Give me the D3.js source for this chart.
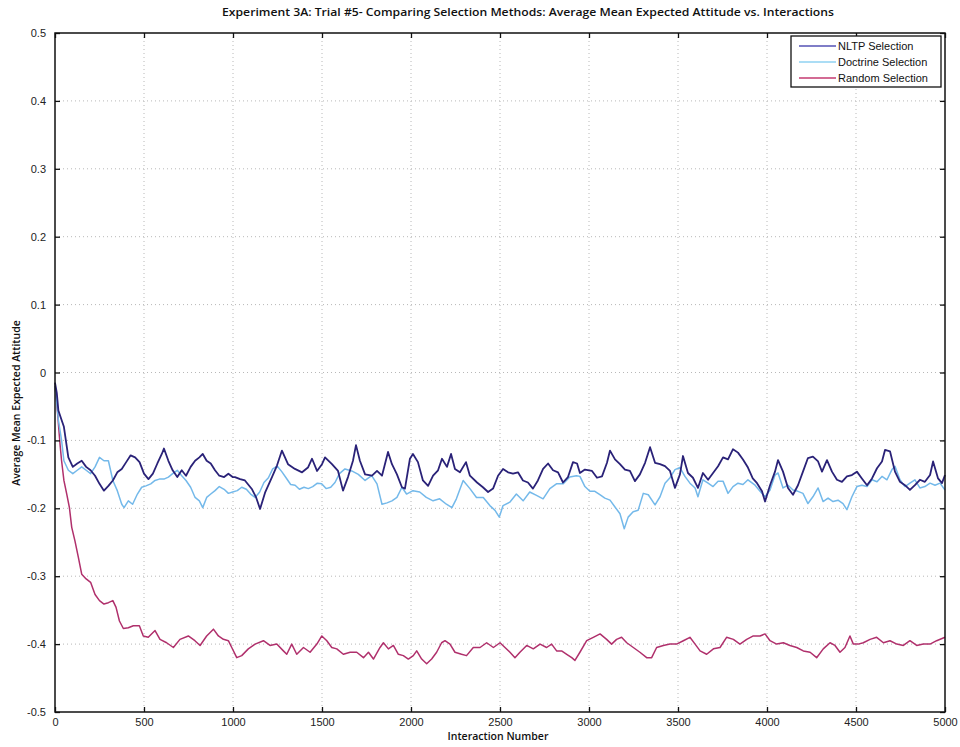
<!DOCTYPE html>
<html><head><meta charset="utf-8">
<script src="https://cdn.jsdelivr.net/npm/d3@7/dist/d3.min.js"></script>
<style>body{margin:0;background:#fff}svg{display:block}</style>
</head><body>
<svg id="c" width="960" height="747"></svg>
<script>
const title = "Experiment 3A: Trial #5- Comparing Selection Methods: Average Mean Expected Attitude vs. Interactions";
const xLabel = "Interaction Number";
const yLabel = "Average Mean Expected Attitude";
const seriesNames = ["NLTP Selection", "Doctrine Selection", "Random Selection"];
const xTicks = [0,500,1000,1500,2000,2500,3000,3500,4000,4500,5000];
const yTicks = [0.5,0.4,0.3,0.2,0.1,0,-0.1,-0.2,-0.3,-0.4,-0.5];
const yTickLabels = ["0.5","0.4","0.3","0.2","0.1","0","-0.1","-0.2","-0.3","-0.4","-0.5"];

// [interaction, value]
const nltp = [[0,-0.015],[10,-0.03],[19,-0.056],[37,-0.070],[50,-0.080],[75,-0.125],[100,-0.139],[125,-0.134],[150,-0.130],[175,-0.139],[200,-0.144],[225,-0.152],[250,-0.164],[275,-0.174],[300,-0.167],[325,-0.159],[350,-0.147],[375,-0.142],[400,-0.132],[425,-0.122],[450,-0.125],[475,-0.132],[500,-0.149],[525,-0.157],[550,-0.149],[575,-0.134],[600,-0.120],[612,-0.112],[637,-0.130],[661,-0.144],[687,-0.154],[712,-0.144],[736,-0.152],[762,-0.139],[787,-0.130],[811,-0.125],[830,-0.120],[852,-0.130],[875,-0.134],[899,-0.144],[923,-0.152],[950,-0.154],[974,-0.149],[998,-0.154],[1011,-0.154],[1040,-0.157],[1067,-0.159],[1107,-0.172],[1130,-0.184],[1152,-0.201],[1180,-0.177],[1219,-0.154],[1247,-0.137],[1275,-0.115],[1309,-0.135],[1348,-0.142],[1388,-0.147],[1421,-0.140],[1444,-0.127],[1472,-0.145],[1500,-0.135],[1517,-0.125],[1556,-0.135],[1590,-0.145],[1618,-0.174],[1646,-0.154],[1674,-0.130],[1691,-0.107],[1713,-0.130],[1742,-0.150],[1781,-0.152],[1809,-0.145],[1837,-0.152],[1871,-0.117],[1893,-0.135],[1921,-0.150],[1949,-0.169],[1966,-0.171],[1994,-0.127],[2011,-0.120],[2039,-0.132],[2067,-0.159],[2096,-0.167],[2124,-0.152],[2152,-0.144],[2174,-0.127],[2202,-0.139],[2225,-0.120],[2247,-0.142],[2275,-0.147],[2309,-0.132],[2331,-0.152],[2371,-0.162],[2404,-0.169],[2433,-0.176],[2461,-0.171],[2489,-0.152],[2517,-0.142],[2545,-0.147],[2573,-0.149],[2601,-0.147],[2629,-0.159],[2657,-0.162],[2685,-0.171],[2713,-0.159],[2742,-0.142],[2770,-0.134],[2798,-0.144],[2826,-0.147],[2854,-0.162],[2882,-0.154],[2910,-0.132],[2933,-0.134],[2949,-0.148],[2977,-0.143],[3017,-0.145],[3045,-0.155],[3073,-0.153],[3101,-0.133],[3118,-0.115],[3146,-0.128],[3174,-0.135],[3202,-0.143],[3230,-0.145],[3258,-0.160],[3286,-0.150],[3315,-0.133],[3343,-0.110],[3371,-0.133],[3399,-0.135],[3427,-0.138],[3455,-0.145],[3483,-0.170],[3511,-0.150],[3528,-0.123],[3556,-0.148],[3584,-0.155],[3612,-0.170],[3640,-0.148],[3669,-0.158],[3697,-0.148],[3725,-0.138],[3753,-0.125],[3781,-0.128],[3809,-0.113],[3837,-0.118],[3865,-0.128],[3893,-0.140],[3920,-0.156],[3944,-0.163],[3972,-0.175],[3989,-0.190],[4017,-0.166],[4045,-0.146],[4062,-0.129],[4090,-0.146],[4118,-0.170],[4146,-0.180],[4174,-0.166],[4202,-0.146],[4230,-0.126],[4258,-0.124],[4287,-0.131],[4309,-0.146],[4337,-0.129],[4365,-0.146],[4393,-0.158],[4421,-0.161],[4449,-0.153],[4477,-0.151],[4505,-0.146],[4533,-0.156],[4562,-0.166],[4590,-0.156],[4618,-0.141],[4646,-0.131],[4663,-0.114],[4691,-0.116],[4719,-0.146],[4747,-0.161],[4775,-0.166],[4803,-0.173],[4831,-0.166],[4859,-0.158],[4887,-0.161],[4916,-0.151],[4933,-0.131],[4961,-0.156],[4983,-0.163],[5000,-0.151]];

const doctrine = [[0,-0.02],[10,-0.045],[19,-0.070],[37,-0.100],[50,-0.130],[75,-0.144],[100,-0.149],[125,-0.144],[150,-0.139],[175,-0.144],[200,-0.149],[225,-0.139],[250,-0.125],[275,-0.130],[300,-0.130],[325,-0.159],[350,-0.174],[375,-0.194],[388,-0.199],[412,-0.189],[436,-0.194],[463,-0.179],[487,-0.169],[511,-0.167],[538,-0.164],[562,-0.159],[586,-0.157],[612,-0.157],[637,-0.154],[661,-0.149],[687,-0.144],[712,-0.152],[736,-0.159],[762,-0.169],[787,-0.184],[811,-0.189],[830,-0.199],[852,-0.184],[875,-0.179],[899,-0.174],[923,-0.168],[950,-0.172],[974,-0.178],[998,-0.176],[1024,-0.174],[1049,-0.169],[1075,-0.172],[1099,-0.179],[1124,-0.184],[1150,-0.176],[1174,-0.162],[1199,-0.155],[1223,-0.142],[1249,-0.138],[1274,-0.146],[1298,-0.155],[1324,-0.165],[1349,-0.166],[1373,-0.172],[1399,-0.169],[1423,-0.171],[1448,-0.168],[1474,-0.163],[1498,-0.164],[1523,-0.171],[1549,-0.169],[1573,-0.162],[1598,-0.149],[1629,-0.142],[1667,-0.145],[1704,-0.150],[1742,-0.159],[1779,-0.152],[1809,-0.164],[1837,-0.194],[1865,-0.192],[1893,-0.189],[1921,-0.184],[1949,-0.169],[1975,-0.179],[2011,-0.174],[2049,-0.176],[2086,-0.184],[2124,-0.189],[2161,-0.186],[2199,-0.194],[2230,-0.199],[2255,-0.186],[2293,-0.159],[2331,-0.171],[2368,-0.184],[2406,-0.184],[2443,-0.196],[2472,-0.203],[2496,-0.213],[2517,-0.196],[2555,-0.191],[2592,-0.179],[2630,-0.189],[2667,-0.176],[2705,-0.181],[2742,-0.186],[2780,-0.171],[2817,-0.164],[2854,-0.164],[2892,-0.154],[2929,-0.152],[2949,-0.153],[2977,-0.168],[3005,-0.175],[3033,-0.175],[3061,-0.180],[3089,-0.185],[3118,-0.188],[3146,-0.198],[3174,-0.208],[3198,-0.230],[3220,-0.213],[3248,-0.205],[3276,-0.203],[3305,-0.178],[3333,-0.180],[3371,-0.195],[3399,-0.183],[3427,-0.163],[3455,-0.155],[3483,-0.143],[3511,-0.140],[3539,-0.153],[3567,-0.163],[3596,-0.170],[3612,-0.183],[3640,-0.158],[3669,-0.163],[3697,-0.168],[3725,-0.160],[3753,-0.160],[3781,-0.178],[3809,-0.168],[3837,-0.163],[3865,-0.165],[3893,-0.158],[3933,-0.166],[3961,-0.175],[3989,-0.183],[4017,-0.173],[4045,-0.151],[4062,-0.148],[4090,-0.170],[4118,-0.166],[4146,-0.173],[4174,-0.175],[4202,-0.178],[4230,-0.193],[4258,-0.183],[4287,-0.170],[4315,-0.190],[4343,-0.185],[4371,-0.190],[4399,-0.188],[4427,-0.193],[4449,-0.202],[4477,-0.183],[4505,-0.168],[4533,-0.166],[4562,-0.168],[4590,-0.158],[4618,-0.161],[4646,-0.153],[4674,-0.158],[4702,-0.143],[4719,-0.138],[4747,-0.158],[4775,-0.168],[4803,-0.163],[4831,-0.158],[4859,-0.170],[4887,-0.168],[4916,-0.163],[4944,-0.166],[4972,-0.163],[5000,-0.173]];

const random = [[0,-0.02],[9,-0.041],[19,-0.075],[28,-0.105],[37,-0.130],[50,-0.159],[66,-0.179],[81,-0.199],[94,-0.228],[112,-0.248],[131,-0.272],[150,-0.297],[175,-0.304],[200,-0.309],[225,-0.327],[250,-0.336],[275,-0.341],[300,-0.339],[325,-0.336],[343,-0.346],[362,-0.366],[384,-0.377],[412,-0.376],[440,-0.373],[474,-0.373],[496,-0.388],[524,-0.390],[562,-0.380],[590,-0.393],[627,-0.398],[665,-0.405],[702,-0.393],[749,-0.388],[786,-0.395],[815,-0.402],[852,-0.388],[890,-0.378],[918,-0.388],[946,-0.393],[974,-0.395],[993,-0.405],[1021,-0.420],[1049,-0.417],[1086,-0.407],[1124,-0.400],[1171,-0.395],[1208,-0.402],[1246,-0.400],[1283,-0.410],[1302,-0.415],[1330,-0.400],[1358,-0.415],[1396,-0.405],[1433,-0.412],[1471,-0.400],[1499,-0.388],[1527,-0.395],[1555,-0.405],[1583,-0.407],[1620,-0.415],[1658,-0.412],[1695,-0.412],[1733,-0.420],[1761,-0.412],[1789,-0.422],[1826,-0.405],[1845,-0.398],[1873,-0.407],[1901,-0.402],[1929,-0.415],[1957,-0.417],[1985,-0.422],[2013,-0.417],[2032,-0.410],[2060,-0.422],[2088,-0.429],[2116,-0.422],[2144,-0.412],[2172,-0.398],[2191,-0.395],[2219,-0.400],[2247,-0.412],[2284,-0.415],[2312,-0.417],[2350,-0.405],[2388,-0.405],[2425,-0.398],[2463,-0.405],[2500,-0.398],[2528,-0.405],[2556,-0.412],[2584,-0.420],[2612,-0.412],[2650,-0.402],[2687,-0.407],[2725,-0.400],[2762,-0.405],[2790,-0.400],[2818,-0.410],[2846,-0.410],[2875,-0.415],[2903,-0.420],[2921,-0.424],[2949,-0.412],[2987,-0.395],[3024,-0.390],[3062,-0.385],[3099,-0.393],[3127,-0.400],[3155,-0.393],[3183,-0.390],[3212,-0.398],[3249,-0.405],[3286,-0.412],[3324,-0.420],[3352,-0.420],[3380,-0.405],[3418,-0.402],[3455,-0.400],[3492,-0.400],[3530,-0.395],[3567,-0.390],[3596,-0.400],[3624,-0.410],[3661,-0.415],[3699,-0.407],[3736,-0.405],[3773,-0.390],[3811,-0.393],[3848,-0.400],[3886,-0.393],[3923,-0.388],[3961,-0.388],[3989,-0.385],[4017,-0.395],[4054,-0.400],[4092,-0.398],[4129,-0.402],[4167,-0.405],[4204,-0.410],[4242,-0.412],[4279,-0.420],[4316,-0.407],[4354,-0.398],[4382,-0.402],[4410,-0.412],[4438,-0.405],[4466,-0.388],[4485,-0.400],[4513,-0.400],[4541,-0.398],[4579,-0.393],[4616,-0.390],[4654,-0.398],[4691,-0.395],[4729,-0.400],[4766,-0.402],[4803,-0.395],[4841,-0.402],[4878,-0.400],[4916,-0.400],[4953,-0.395],[5000,-0.390]];

const colors = ["#2a2278", "#74b9ea", "#b0306c"];
const legendColors = ["#5552b4", "#8fd2f2", "#c43a70"];

const svg = d3.select("#c");
const L = 55, R = 945, T = 33, B = 712;
const x = d3.scaleLinear().domain([0,5000]).range([L,R]);
const y = d3.scaleLinear().domain([-0.5,0.5]).range([B,T]);

// grid
const g = svg.append("g");
g.selectAll(".gx").data(xTicks.slice(1,-1)).enter().append("line")
  .attr("x1",d=>x(d)).attr("x2",d=>x(d)).attr("y1",T).attr("y2",B)
  .attr("stroke","#b8b8b8").attr("stroke-width",1).attr("stroke-dasharray","1,3");
g.selectAll(".gy").data(yTicks.slice(1,-1)).enter().append("line")
  .attr("y1",d=>y(d)).attr("y2",d=>y(d)).attr("x1",L).attr("x2",R)
  .attr("stroke","#b8b8b8").attr("stroke-width",1).attr("stroke-dasharray","1,3");

// lines
const line = d3.line().x(d=>x(d[0])).y(d=>y(d[1]));
[random, doctrine, nltp].forEach((s,i)=>{
  const ci = [2,1,0][i];
  svg.append("path").datum(s).attr("d",line).attr("fill","none")
    .attr("stroke",colors[ci]).attr("stroke-width", ci===0?1.8:1.5).attr("stroke-linejoin","round");
});

// axes with inward ticks
const ax = svg.append("g").attr("transform",`translate(0,${B})`)
  .call(d3.axisBottom(x).tickValues(xTicks).tickSizeInner(-5).tickSizeOuter(0).tickPadding(8).tickFormat(d=>String(d)));
const axT = svg.append("g").attr("transform",`translate(0,${T})`)
  .call(d3.axisTop(x).tickValues(xTicks).tickSizeInner(-5).tickSizeOuter(0).tickFormat(""));
const ay = svg.append("g").attr("transform",`translate(${L},0)`)
  .call(d3.axisLeft(y).tickValues(yTicks).tickSizeInner(-5).tickSizeOuter(0).tickPadding(9).tickFormat((d,i)=>yTickLabels[i]));
const ayR = svg.append("g").attr("transform",`translate(${R},0)`)
  .call(d3.axisRight(y).tickValues(yTicks).tickSizeInner(-5).tickSizeOuter(0).tickFormat(""));
[ax,axT,ay,ayR].forEach(a=>{
  a.select(".domain").remove();
  a.selectAll("line").attr("stroke","#111").attr("stroke-width",1.3);
  a.selectAll("text").attr("fill","#222").style("font-family","Arial, 'Liberation Sans', sans-serif").style("font-size","11px");
});
ax.selectAll("text").attr("dy","0.55em");
svg.append("rect").attr("x",L).attr("y",T).attr("width",R-L).attr("height",B-T)
  .attr("fill","none").attr("stroke","#111").attr("stroke-width",1.5);

// title & labels
svg.append("text").attr("x",528).attr("y",16).attr("text-anchor","middle")
  .style("font-family","'Open Sans', 'Noto Sans', sans-serif").style("font-weight","600").style("font-size","11px")
  .attr("fill","#111").attr("textLength",612).attr("lengthAdjust","spacingAndGlyphs").text(title);
svg.append("text").attr("x",498).attr("y",740).attr("text-anchor","middle")
  .style("font-family","'Open Sans', 'Noto Sans', sans-serif").style("font-weight","600").style("font-size","10.5px")
  .attr("fill","#111").text(xLabel);
svg.append("text").attr("transform","translate(20,403) rotate(-90)").attr("text-anchor","middle")
  .style("font-family","'Open Sans', 'Noto Sans', sans-serif").style("font-weight","600").style("font-size","10.5px")
  .attr("fill","#111").text(yLabel);

// legend
const lg = svg.append("g");
lg.append("rect").attr("x",791).attr("y",36).attr("width",150).attr("height",51)
  .attr("fill","#fff").attr("stroke","#111").attr("stroke-width",1.3);
seriesNames.forEach((n,i)=>{
  const yy = 46 + i*16;
  lg.append("line").attr("x1",799).attr("x2",836).attr("y1",yy).attr("y2",yy)
    .attr("stroke",legendColors[i]).attr("stroke-width",1.5);
  lg.append("text").attr("x",838).attr("y",yy+4)
    .style("font-family","Arial, 'Liberation Sans', sans-serif").style("font-size","11px")
    .attr("fill","#111").text(n);
});
</script>
</body></html>
